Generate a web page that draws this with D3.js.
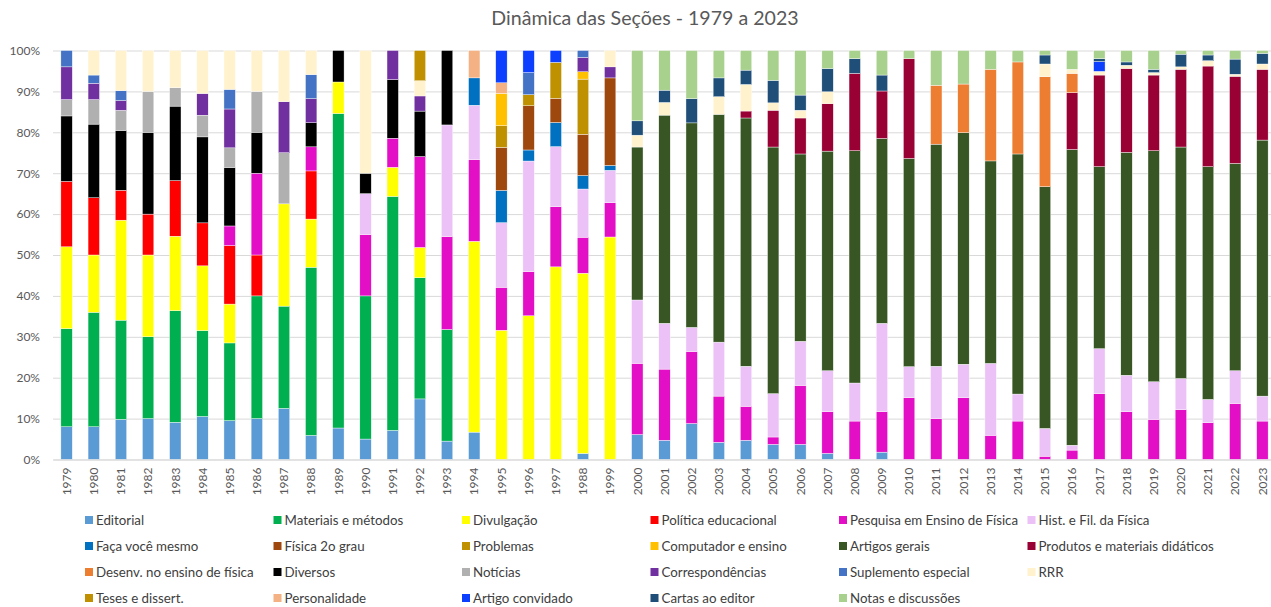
<!DOCTYPE html>
<html>
<head>
<meta charset="utf-8">
<script src="https://cdn.jsdelivr.net/npm/d3@7"></script>
<style>
  body { margin: 0; background: #fff; }
  text { font-family: Lato, "Open Sans", sans-serif; }
</style>
</head>
<body>
<svg id="chart" width="1271" height="607"></svg>
<script>
// anos (o rótulo de 1998 aparece como "1988" no original)
var years = [1979,1980,1981,1982,1983,1984,1985,1986,1987,1988,1989,1990,1991,1992,1993,1994,1995,1996,1997,1998,1999,
  2000,2001,2002,2003,2004,2005,2006,2007,2008,2009,2010,2011,2012,2013,2014,2015,2016,2017,2018,2019,2020,2021,2022,2023];
var yearLabels = ["1979","1980","1981","1982","1983","1984","1985","1986","1987","1988","1989","1990","1991","1992","1993","1994","1995","1996","1997","1988","1999",
  "2000","2001","2002","2003","2004","2005","2006","2007","2008","2009","2010","2011","2012","2013","2014","2015","2016","2017","2018","2019","2020","2021","2022","2023"];

var seriesNames = ["Editorial","Materiais e métodos","Divulgação","Política educacional","Pesquisa em Ensino de Física","Hist. e Fil. da Física",
  "Faça você mesmo","Física 2o grau","Problemas","Computador e ensino","Artigos gerais","Produtos e materiais didáticos",
  "Desenv. no ensino de física","Diversos","Notícias","Correspondências","Suplemento especial","RRR",
  "Teses e dissert.","Personalidade","Artigo convidado","Cartas ao editor","Notas e discussões"];
var seriesColors = ["#5b9bd5","#00b050","#ffff00","#ff0000","#e30fc7","#ebc1f7",
  "#0070c0","#9e480e","#bf9000","#ffc000","#375623","#990033",
  "#ed7d31","#000000","#b0b0b0","#7030a0","#4472c4","#fff2cc",
  "#c09000","#f4b183","#0d3fff","#1f4e79","#a9d18e"];

// % de cada seção por ano
var editorial = [8,8,9.8,10,9.1,10.5,9.5,10,12.5,5.9,7.7,5,7.1,14.8,4.5,6.7,0,0,0,1.5,0,6.1,4.7,8.8,4.2,4.7,3.7,3.7,1.5,0,1.8,0,0,0,0,0,0,0,0,0,0,0,0,0,0];
var materiais = [24,28,24.2,20,27.3,21,19,30,25,41.2,76.9,35,57.1,29.6,27.3,0,0,0,0,0,0,0,0,0,0,0,0,0,0,0,0,0,0,0,0,0,0,0,0,0,0,0,0,0,0];
var divulgacao = [20,14,24.4,20,18.2,15.8,9.5,0,25,11.8,7.7,0,7.1,7.4,0,46.7,31.6,35.1,47.1,44.1,54.4,0,0,0,0,0,0,0,0,0,0,0,0,0,0,0,0,0,0,0,0,0,0,0,0];
var politica = [16,14,7.3,10,13.6,10.5,14.3,10,0,11.8,0,0,0,0,0,0,0,0,0,0,0,0,0,0,0,0,0,0,0,0,0,0,0,0,0,0,0,0,0,0,0,0,0,0,0];
var pesquisa = [0,0,0,0,0,0,4.8,20,0,5.9,0,15,7.1,22.2,22.7,20,10.5,10.8,14.7,8.8,8.4,17.4,17.4,17.6,11.3,8.3,1.8,14.4,10.2,9.4,9.9,15.1,10,15.1,5.9,9.4,0.8,2.3,16.1,11.7,9.8,12.2,9,13.7,9.4];
var historia = [0,0,0,0,0,0,0,0,0,0,0,10,0,0,27.3,13.3,15.8,27,14.7,11.8,7.9,15.5,11.2,5.9,13.2,9.8,10.6,10.8,10,9.3,21.6,7.6,12.8,8.2,17.6,6.6,6.8,1.2,11,8.9,9.2,7.6,5.7,8,6.1];
var facaVoce = [0,0,0,0,0,0,0,0,0,0,0,0,0,0,0,6.7,7.9,2.7,5.9,3.3,1.2,0,0,0,0,0,0,0,0,0,0,0,0,0,0,0,0,0,0,0,0,0,0,0,0];
var fisica2grau = [0,0,0,0,0,0,0,0,0,0,0,0,0,0,0,0,10.5,10.8,5.9,10.1,21.4,0,0,0,0,0,0,0,0,0,0,0,0,0,0,0,0,0,0,0,0,0,0,0,0];
var problemas = [0,0,0,0,0,0,0,0,0,0,0,0,0,0,0,0,5.3,2.7,8.8,13.5,0,0,0,0,0,0,0,0,0,0,0,0,0,0,0,0,0,0,0,0,0,0,0,0,0];
var computador = [0,0,0,0,0,0,0,0,0,0,0,0,0,0,0,0,7.9,0,0,1.8,0,0,0,0,0,0,0,0,0,0,0,0,0,0,0,0,0,0,0,0,0,0,0,0,0];
var artigosGerais = [0,0,0,0,0,0,0,0,0,0,0,0,0,0,0,0,0,0,0,0,0,37.4,50.9,50,55.7,60.7,60.3,45.8,53.7,56.8,45.2,50.9,54.3,56.6,49.5,58.7,59.1,72.3,44.5,54.5,56.5,56.6,56.9,50.7,62.6];
var produtos = [0,0,0,0,0,0,0,0,0,0,0,0,0,0,0,0,0,0,0,0,0,0,0,0,0,1.7,9,8.8,11.6,18.9,11.6,24.4,0,0,0,0,0,13.9,22.4,20.5,18.5,19,24.6,21.3,17.3];
var desenv = [0,0,0,0,0,0,0,0,0,0,0,0,0,0,0,0,0,0,0,0,0,0,0,0,0,0,0,0,0,0,0,0,14.4,11.9,22.4,22.5,26.9,4.7,0,0,0,0,0,0,0];
var diversos = [16,18,14.6,20,18.2,21,14.3,10,0,5.9,7.7,5,14.3,11.1,18.2,0,0,0,0,0,0,0,0,0,0,0,0,0,0,0,0,0,0,0,0,0,0,0,0,0,0,0,0,0,0];
var noticias = [4,6,4.9,10,4.5,5.3,4.8,10,12.5,0,0,0,0,0,0,0,0,0,0,0,0,0,0,0,0,0,0,0,0,0,0,0,0,0,0,0,0,0,0,0,0,0,0,0,0];
var correspondencias = [8,4,2.4,0,0,5.3,9.5,0,12.5,5.9,0,0,7.1,3.7,0,0,0,0,0,3.5,2.7,0,0,0,0,0,0,0,0,0,0,0,0,0,0,0,0,0,0,0,0,0,0,0,0];
var suplemento = [4,2,2.4,0,0,0,4.8,0,0,5.9,0,0,0,0,0,0,0,5.4,0,1.7,0,0,0,0,0,0,0,0,0,0,0,0,0,0,0,0,0,0,0,0,0,0,0,0,0];
var rrr = [0,6,9.8,10,9.1,10.5,9.5,10,12.5,5.9,0,30,0,3.7,0,0,0,0,0,0,4,2.9,3.1,0,4.3,6.5,1.8,1.9,2.9,0,0,0,0,0,0,0,3.1,1,0.9,0.8,0.6,0.6,1.3,0.5,1.3];
var teses = [0,0,0,0,0,0,0,0,0,0,0,0,0,7.4,0,0,0,0,0,0,0,0,0,0,0,0,0,0,0,0,0,0,0,0,0,0,0,0,0,0,0,0,0,0,0];
var personalidade = [0,0,0,0,0,0,0,0,0,0,0,0,0,0,0,6.7,2.6,0,0,0,0,0,0,0,0,0,0,0,0,0,0,0,0,0,0,0,0,0,0,0,0,0,0,0,0];
var artigoConvidado = [0,0,0,0,0,0,0,0,0,0,0,0,0,0,0,0,7.9,5.4,2.9,0,0,0,0,0,0,0,0,0,0,0,0,0,0,0,0,0,0,0,2.4,0,0,0,0,0,0];
var cartas = [0,0,0,0,0,0,0,0,0,0,0,0,0,0,0,0,0,0,0,0,0,3.5,3,5.9,4.6,3.5,5.5,3.7,5.7,3.6,3.9,0,0,0,0,0,2.2,0,0.7,0.8,0.8,3.1,1.4,3.7,2.6];
var notas = [0,0,0,0,0,0,0,0,0,0,0,0,0,0,0,0,0,0,0,0,0,17.2,9.7,11.8,6.7,4.8,7.3,10.9,4.4,2,6,2,8.5,8.2,4.6,2.8,1.1,4.6,2,2.8,4.6,0.9,1.1,2.1,0.7];

var seriesValues = [editorial, materiais, divulgacao, politica, pesquisa, historia, facaVoce, fisica2grau, problemas,
  computador, artigosGerais, produtos, desenv, diversos, noticias, correspondencias, suplemento, rrr, teses,
  personalidade, artigoConvidado, cartas, notas];

var table = years.map(function(y, i) {
  var row = { year: y, label: yearLabels[i] };
  seriesNames.forEach(function(name, s) { row[name] = seriesValues[s][i]; });
  return row;
});

var svg = d3.select("#chart");
var plotLeft = 53, plotRight = 1276, plotTop = 50.5, plotBottom = 459.5;

var x = d3.scaleBand()
  .domain(years)
  .range([plotLeft, plotRight])
  .paddingInner(0.58)
  .paddingOuter(0.29);

var y = d3.scaleLinear()
  .domain([0, 1])
  .range([plotBottom, plotTop]);

var color = d3.scaleOrdinal().domain(seriesNames).range(seriesColors);

// título
svg.append("text")
  .attr("x", 645)
  .attr("y", 25)
  .attr("text-anchor", "middle")
  .attr("fill", "#595959")
  .style("font-size", "19.6px")
  .text("Dinâmica das Seções - 1979 a 2023");

// grade
svg.append("g")
  .attr("transform", `translate(${plotLeft},0)`)
  .call(d3.axisLeft(y).ticks(10).tickSize(-(plotRight - plotLeft)).tickFormat(""))
  .call(function(g) { g.select(".domain").remove(); })
  .selectAll("line").attr("stroke", "#d9d9d9");

// eixo y
svg.append("g")
  .attr("transform", `translate(${plotLeft},0)`)
  .call(d3.axisLeft(y).ticks(10).tickSize(0).tickPadding(13).tickFormat(d3.format(".0%")))
  .call(function(g) { g.select(".domain").remove(); })
  .selectAll("text")
  .attr("fill", "#595959")
  .style("font-size", "12px");

var stack = d3.stack().keys(seriesNames).offset(d3.stackOffsetExpand);
var layers = stack(table);

svg.append("g")
  .selectAll("g")
  .data(layers)
  .join("g")
  .attr("fill", function(d) { return color(d.key); })
  .selectAll("rect")
  .data(function(d) { return d; })
  .join("rect")
  .attr("x", function(d) { return x(d.data.year); })
  .attr("y", function(d) { return y(d[1]); })
  .attr("width", x.bandwidth())
  .attr("height", function(d) { return Math.max(0, y(d[0]) - y(d[1])); })
  .attr("stroke", "#fff")
  .attr("stroke-width", 0.4);

// eixo x
var xAxis = svg.append("g")
  .attr("transform", `translate(0,${plotBottom})`)
  .call(d3.axisBottom(x).tickSize(0).tickFormat(function(d, i) { return yearLabels[i]; }));
xAxis.select(".domain").attr("stroke", "#d9d9d9");
xAxis.selectAll("text")
  .attr("fill", "#595959")
  .style("font-size", "12px")
  .attr("text-anchor", "end")
  .attr("transform", "rotate(-90)")
  .attr("x", -8)
  .attr("y", 0)
  .attr("dy", "0.35em");

// legenda
var legend = svg.append("g");
var item = legend.selectAll("g")
  .data(seriesNames)
  .join("g")
  .attr("transform", function(d, i) {
    return `translate(${89 + (i % 6) * 188.5},${520 + Math.floor(i / 6) * 26})`;
  });
item.append("rect")
  .attr("x", -4).attr("y", -4)
  .attr("width", 8).attr("height", 8)
  .attr("fill", function(d) { return color(d); });
item.append("text")
  .attr("x", 7)
  .attr("dy", "0.35em")
  .attr("fill", "#404040")
  .style("font-size", "13.3px")
  .text(function(d) { return d; });
</script>
</body>
</html>
